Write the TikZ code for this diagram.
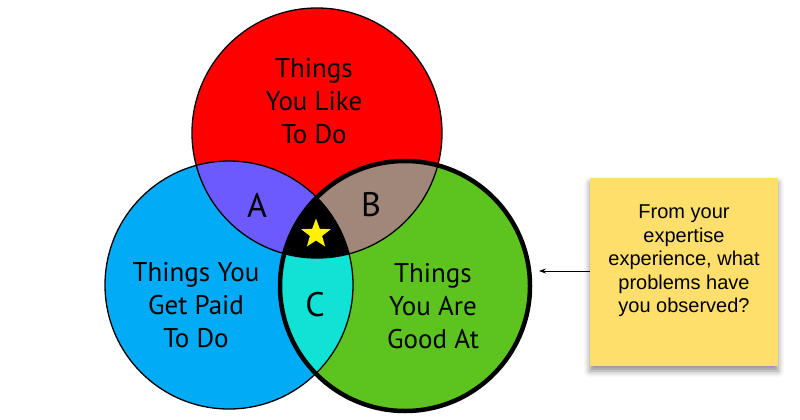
\documentclass[tikz,border=0pt]{standalone}
\usepackage{fontspec}
\setmainfont{Liberation Sans}
\newfontfamily\handfont{PT Sans}
\usetikzlibrary{shapes.geometric,arrows.meta,shadows.blur}
\definecolor{cred}{HTML}{FF0000}
\definecolor{cblue}{HTML}{02ABF6}
\definecolor{cgreen}{HTML}{5DC41F}
\definecolor{cpurple}{HTML}{6B5BFF}
\definecolor{cbrown}{HTML}{A0877A}
\definecolor{ccyan}{HTML}{10E3D6}
\definecolor{cnote}{HTML}{FEDF6C}
\definecolor{cstar}{HTML}{FFF200}
\tikzset{
  circtext/.style={font=\handfont\fontsize{27}{33}\selectfont, align=center, text=black},
  regionletter/.style={font=\handfont\fontsize{34}{34}\selectfont, text=black},
  thinline/.style={draw=black, line width=1.3pt},
  thickline/.style={draw=black, line width=4.5pt},
  notebox/.style={fill=cnote, minimum width=188pt, minimum height=188pt, inner sep=0pt,
    blur shadow={shadow xshift=0pt, shadow yshift=-5pt, shadow blur radius=6pt, shadow opacity=45}},
  notetext/.style={font=\fontsize{20}{23.5}\selectfont, align=center, text=black},
  pointer/.style={draw=black, line width=0.8pt, -{Stealth[length=7pt,width=5pt]}}
}
\begin{document}
\begin{tikzpicture}[x=1pt,y=-1pt]
\useasboundingbox (0,0) rectangle (800,420);
\coordinate (cr) at (317,133);
\coordinate (cb) at (229,285);
\coordinate (cg) at (405,286);
% base fills
\fill[cred] (cr) circle[radius=125pt];
\fill[cblue] (cb) circle[radius=124pt];
\fill[cgreen] (cg) circle[radius=125pt];
% A: red and blue
\begin{scope}
  \clip (cr) circle[radius=125pt];
  \fill[cpurple] (cb) circle[radius=124pt];
\end{scope}
% B: red and green
\begin{scope}
  \clip (cr) circle[radius=125pt];
  \fill[cbrown] (cg) circle[radius=125pt];
\end{scope}
% C: blue and green
\begin{scope}
  \clip (cb) circle[radius=124pt];
  \fill[ccyan] (cg) circle[radius=125pt];
\end{scope}
% centre: all three
\begin{scope}
  \clip (cr) circle[radius=125pt];
  \clip (cb) circle[radius=124pt];
  \fill[black] (cg) circle[radius=125pt];
\end{scope}
% outlines
\draw[thinline] (cr) circle[radius=125pt];
\draw[thinline] (cb) circle[radius=124pt];
\draw[thickline] (cg) circle[radius=125pt];
% texts
\node[circtext] (tred) at (314,101) {Things\\You Like\\To Do};
\node[circtext] (tblue) at (196,305) {Things You\\Get Paid\\To Do};
\node[circtext] (tgreen) at (433,306) {Things\\You Are\\Good At};
\node[regionletter] (la) at (257,205) {A};
\node[regionletter] (lb) at (371,205) {B};
\node[regionletter] (lc) at (315,305) {C};
\node[star, star points=5, star point ratio=2.4, fill=cstar, minimum size=31pt, inner sep=0pt] (star) at (316,234) {};
% note
\node[notebox] (note) at (684,272) {};
\node[notetext] (ntext) at (684,261) {From your\\expertise\\experience, what\\problems have\\you observed?};
\coordinate (arrowend) at (539,271);
\draw[pointer] (note.west |- arrowend) -- (arrowend);
\end{tikzpicture}
\end{document}
